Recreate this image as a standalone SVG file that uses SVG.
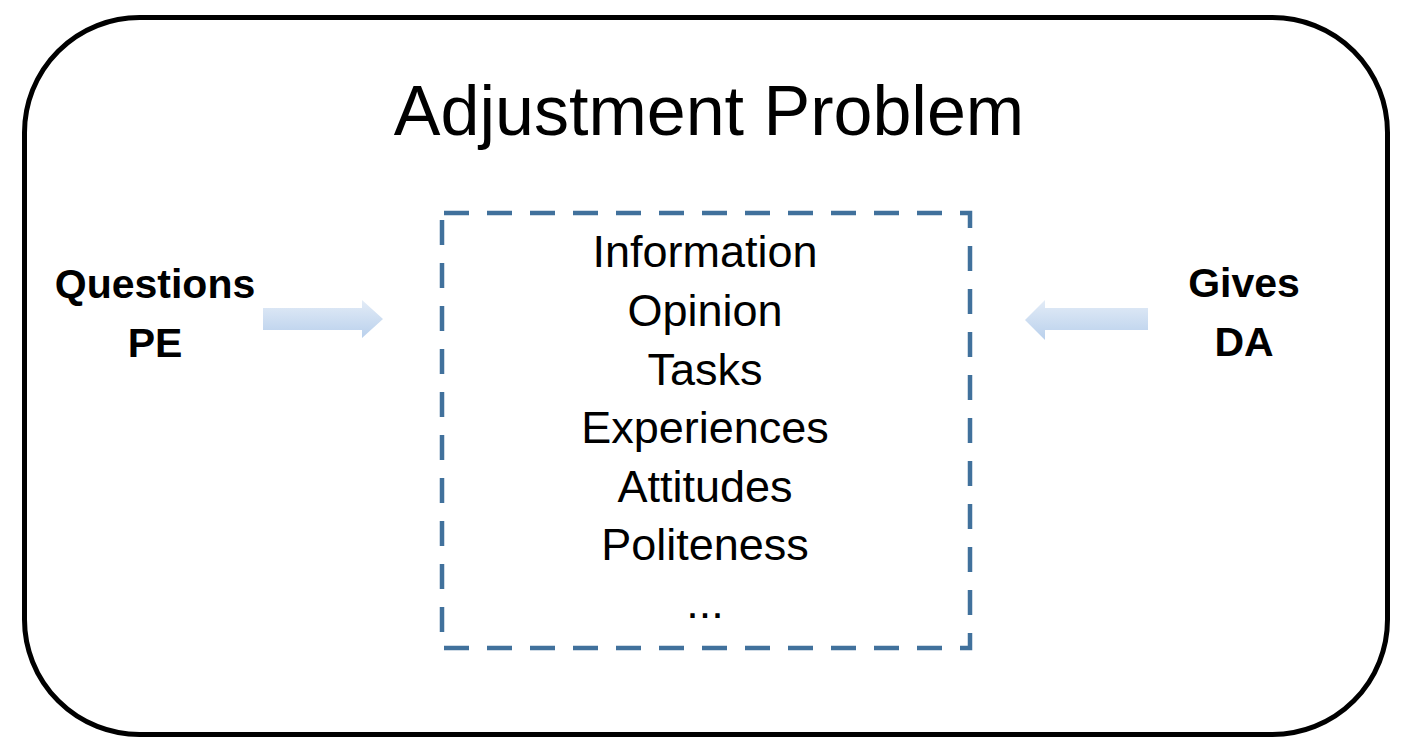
<svg xmlns="http://www.w3.org/2000/svg" width="1417" height="749" viewBox="0 0 1417 749">
<style>
.title{font-family:"Liberation Sans",Arial,sans-serif;font-size:70px;fill:#000;text-anchor:middle}
.item{font-family:"Liberation Sans",Arial,sans-serif;font-size:45px;fill:#000;text-anchor:middle}
.side{font-family:"Liberation Sans",Arial,sans-serif;font-size:41px;font-weight:bold;fill:#000;text-anchor:middle}
.arrow{fill:url(#ag);stroke:none}
</style>
<defs>
<linearGradient id="ag" x1="0" y1="0" x2="0" y2="1">
<stop offset="0" stop-color="#e3ecf7"/>
<stop offset="1" stop-color="#b9d0ec"/>
</linearGradient>
</defs>
<rect width="1417" height="749" fill="#fff"/>
<g id="outer">
<rect x="24.5" y="17.5" width="1363" height="717" rx="115" ry="115" fill="none" stroke="#000" stroke-width="5"/>
<text class="title" x="709" y="135">Adjustment Problem</text>
</g>
<g id="center-box">
<rect x="442" y="213" width="528" height="435" fill="none" stroke="#41719c" stroke-width="4.5" stroke-dasharray="25 18" stroke-dashoffset="-2"/>
<text class="item" x="705" y="267">Information</text>
<text class="item" x="705" y="326">Opinion</text>
<text class="item" x="705" y="385">Tasks</text>
<text class="item" x="705" y="443">Experiences</text>
<text class="item" x="705" y="502">Attitudes</text>
<text class="item" x="705" y="560">Politeness</text>
<text class="item" x="705" y="618">...</text>
</g>
<g id="questions-pe">
<text class="side" x="155" y="298">Questions</text>
<text class="side" x="155" y="357">PE</text>
</g>
<g id="gives-da">
<text class="side" x="1244" y="297">Gives</text>
<text class="side" x="1244" y="356">DA</text>
</g>
<g id="connectors">
<polygon class="arrow" points="263,308 362,308 362,300 383,319 362,338 362,330 263,330"/>
<polygon class="arrow" points="1148,308 1045,308 1045,300 1025,320 1045,340 1045,330 1148,330"/>
</g>
</svg>
